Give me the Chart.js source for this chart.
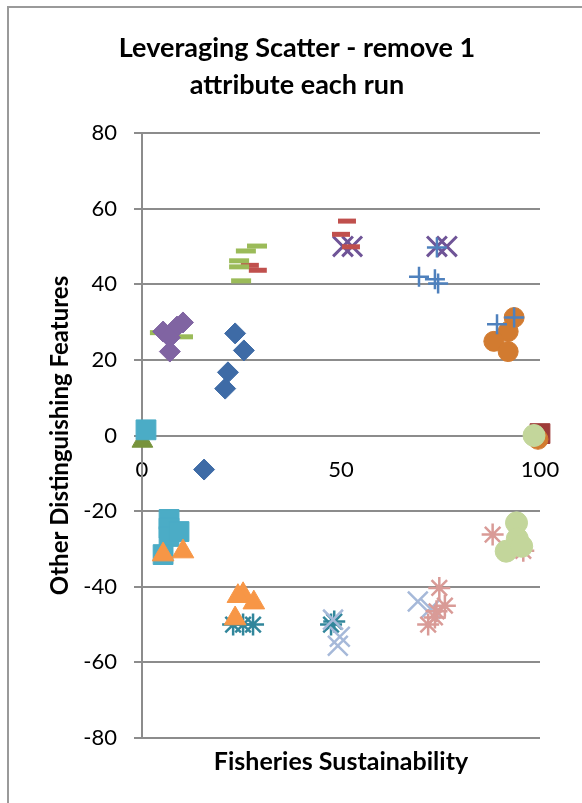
<!DOCTYPE html>
<html>
<head>
<meta charset="utf-8">
<script src="https://cdn.jsdelivr.net/npm/chart.js@4.4.0/dist/chart.umd.min.js"></script>
<style>
  html, body { margin: 0; padding: 0; background: #fff; overflow: hidden; }
  #frame { position: absolute; left: 7px; top: 6px; width: 700px; height: 900px;
           border-left: 2px solid #9a9a9a; border-top: 2px solid #9a9a9a; }
  #chart { position: absolute; left: 0; top: 0; }
</style>
</head>
<body>
<div id="frame"></div>
<canvas id="chart" width="582" height="803"></canvas>
<script>
// Data, one pair of arrays per run
const titleLines = ['Leveraging Scatter - remove 1', 'attribute each run'];
const xTitle = 'Fisheries Sustainability';
const yTitle = 'Other Distinguishing Features';
const xRange = [0, 100, 50];   // min, max, step
const yRange = [-80, 80, 20];

const redSquareX = [100];
const redSquareY = [0.5];
const oliveTriX = [0.1];
const oliveTriY = [-1.5];
const blueDiamondX = [23.4, 25.6, 21.6, 20.9, 15.6];
const blueDiamondY = [27, 22.5, 16.7, 12.4, -9];
const purpleXX = [50.5, 52.8, 74.1, 76.6];
const purpleXY = [50, 50, 50, 50];
const tealStarX = [22.9, 25.4, 27.9, 47.5, 48.3];
const tealStarY = [-50, -50, -50, -50, -49.2];
const orangeCircleX = [93.5, 92, 88.4, 92, 99.5];
const orangeCircleY = [31.2, 27.5, 24.9, 22.2, -1];
const bluePlusX = [69.6, 73.6, 74.4, 74.1, 89.2, 93.5];
const bluePlusY = [42, 41.3, 40.2, 49.7, 29.4, 31.2];
const redDashX = [51.5, 50, 52.5, 27.1, 29.1];
const redDashY = [56.7, 53.2, 49.9, 45, 43.7];
const greenDashX = [28.9, 26.1, 24.4, 24.4, 24.9, 4.5, 10.3];
const greenDashY = [50.1, 48.8, 46.2, 44.6, 40.9, 27.2, 26.1];
const purpleDiamondX = [10.3, 8.8, 5.3, 7, 7];
const purpleDiamondY = [29.9, 28.8, 27.5, 25.9, 22.2];
const tealSquareX = [1, 6.8, 6.8, 6.8, 9.3, 5.3];
const tealSquareY = [1.5, -22.2, -24.5, -26.7, -25.4, -31.5];
const orangeTriX = [5.3, 10.3, 25.4, 24.1, 28.1, 23.4];
const orangeTriY = [-31.5, -30.7, -42, -42.5, -44.2, -48.4];
const lightBlueXX = [69.3, 72.5, 48, 49.7, 49.2];
const lightBlueXY = [-43.9, -45.8, -48.7, -53.2, -55.6];
const pinkStarX = [88.1, 74.7, 76.1, 74, 73.6, 71.9, 95.8];
const pinkStarY = [-26.2, -40.3, -45, -46.5, -48.1, -50, -30.5];
const greenCircleX = [98.5, 94.1, 94.3, 91.5, 95.4];
const greenCircleY = [0, -23.1, -27.3, -30.6, -29.3];

function pts(xs, ys) {
  return xs.map((x, i) => ({ x: x, y: ys[i] }));
}

// bottom to top, as the runs overlap in the picture
const runs = [
  { xs: redSquareX, ys: redSquareY, style: 'rect', color: '#9e3b38', r: 14, w: 1 },
  { xs: oliveTriX, ys: oliveTriY, style: 'triangle', color: '#77933c', r: 12, w: 1 },
  { xs: blueDiamondX, ys: blueDiamondY, style: 'rectRot', color: '#3e6ba6', r: 10.5, w: 1 },
  { xs: purpleXX, ys: purpleXY, style: 'crossRot', color: '#6f5497', r: 14, w: 3 },
  { xs: tealStarX, ys: tealStarY, style: 'star', color: '#31869b', r: 11, w: 2.5 },
  { xs: orangeCircleX, ys: orangeCircleY, style: 'circle', color: '#d27b30', r: 10, w: 1 },
  { xs: bluePlusX, ys: bluePlusY, style: 'cross', color: '#4f81bd', r: 10, w: 2.5 },
  { xs: redDashX, ys: redDashY, style: 'line', color: '#c0504d', r: 9, w: 5 },
  { xs: greenDashX, ys: greenDashY, style: 'line', color: '#9bbb59', r: 10, w: 5 },
  { xs: purpleDiamondX, ys: purpleDiamondY, style: 'rectRot', color: '#8064a2', r: 10.5, w: 1 },
  { xs: tealSquareX, ys: tealSquareY, style: 'rect', color: '#4bacc6', r: 14, w: 1 },
  { xs: orangeTriX, ys: orangeTriY, style: 'triangle', color: '#f79646', r: 12.5, w: 1 },
  { xs: lightBlueXX, ys: lightBlueXY, style: 'crossRot', color: '#a6b9d9', r: 14, w: 2.5 },
  { xs: pinkStarX, ys: pinkStarY, style: 'star', color: '#d99b97', r: 11, w: 2.5 },
  { xs: greenCircleX, ys: greenCircleY, style: 'circle', color: '#c3d69b', r: 11, w: 1 }
];

const datasets = runs.map((s, i) => ({
  data: pts(s.xs, s.ys),
  order: runs.length - i,      // later runs drawn on top
  pointStyle: s.style,
  pointRadius: s.r,
  pointHoverRadius: s.r,
  pointBorderWidth: s.w,
  pointBorderColor: s.color,
  pointBackgroundColor: s.color,
  clip: false
}));

const gridGrey = '#8c8c8c';
const font = 'Lato, "Open Sans", sans-serif';

new Chart(document.getElementById('chart'), {
  type: 'scatter',
  data: { datasets: datasets },
  options: {
    responsive: false,
    animation: false,
    events: [],
    layout: { padding: { left: 12, right: 0, top: 0, bottom: 0 } },
    plugins: {
      legend: { display: false },
      tooltip: { enabled: false },
      title: {
        display: true,
        text: titleLines,
        color: '#000',
        font: { family: font, size: 27, weight: 'bold', lineHeight: 37 / 27 },
        padding: { top: 30, bottom: 29 }
      }
    },
    scales: {
      x: {
        type: 'linear',
        position: 'bottom',
        min: xRange[0], max: xRange[1],
        ticks: { display: false },
        grid: { display: false },
        border: { display: false },
        title: {
          display: true, text: xTitle, color: '#000',
          font: { family: font, size: 25, weight: 'bold' },
          padding: { top: 0, bottom: 26 }
        },
        afterFit: s => { s.height = 65; }
      },
      x0: {
        type: 'linear',
        position: { y: 0 },
        min: xRange[0], max: xRange[1],
        ticks: { stepSize: xRange[2], color: '#000', font: { family: font, size: 22 }, padding: 21 },
        grid: { display: false, drawTicks: false },
        border: { display: false }
      },
      y: {
        type: 'linear',
        position: 'left',
        min: yRange[0], max: yRange[1],
        ticks: { stepSize: yRange[2], color: '#000', font: { family: font, size: 22 }, padding: 17 },
        grid: { color: gridGrey, lineWidth: 2, tickLength: 8 },
        border: { display: true, color: gridGrey, width: 2 },
        title: {
          display: true, text: yTitle, color: '#000',
          font: { family: font, size: 24, weight: 'bold' },
          padding: { top: 34, bottom: 0 }
        },
        afterFit: s => { s.width = 130; }
      },
      yr: {
        type: 'linear',
        position: 'right',
        min: yRange[0], max: yRange[1],
        ticks: { display: false },
        grid: { display: false },
        border: { display: false },
        afterFit: s => { s.width = 42; }
      }
    }
  }
});
</script>
</body>
</html>
